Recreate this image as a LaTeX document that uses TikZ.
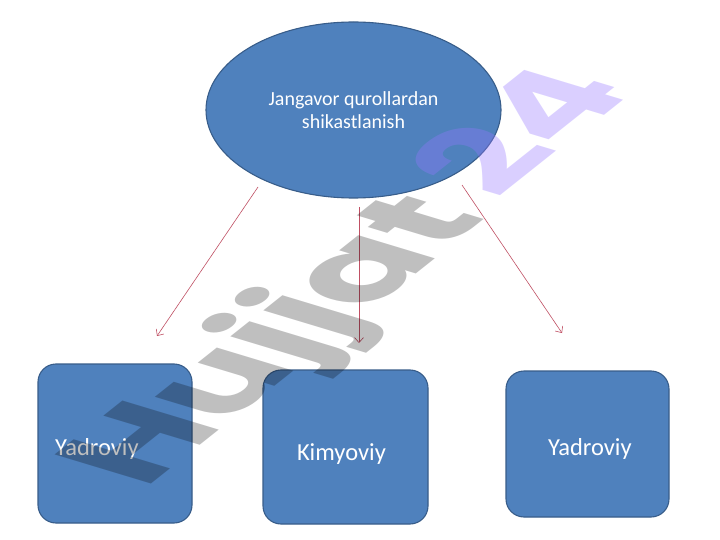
\documentclass[tikz,border=0pt]{standalone}
\usepackage{fontspec}
\setmainfont{Carlito}
\newfontfamily\wmfont{Poppins}
\usetikzlibrary{shapes.geometric,arrows.meta}
\definecolor{boxfill}{RGB}{79,129,189}
\definecolor{boxline}{RGB}{56,93,138}
\definecolor{arrowcol}{RGB}{192,80,100}
\definecolor{wmpurple}{RGB}{150,120,255}
\tikzset{
  box/.style={draw=boxline, line width=1.1pt, fill=boxfill, rounded corners=18pt,
    text=white, font=\fontsize{24.5}{28}\selectfont, inner ysep=0pt, text depth=5pt, align=left},
  topell/.style={ellipse, draw=boxline, line width=1.1pt, fill=boxfill, text=white,
    minimum width=295pt, minimum height=176pt, inner sep=0pt, align=center,
    font=\fontsize{20}{23}\selectfont},
  conn/.style={draw=arrowcol, line width=0.6pt, -{Straight Barb[length=5pt,width=9pt]}},
  wmgray/.style={transform shape, anchor=base west, inner sep=0pt, text=black, text opacity=0.25,
    font=\fontsize{143}{143}\wmfont\bfseries},
  wmviolet/.style={transform shape, anchor=base west, inner sep=0pt, text=wmpurple, text opacity=0.35,
    font=\fontsize{143}{143}\wmfont\bfseries}
}
\begin{document}
\begin{tikzpicture}[x=1pt,y=-1pt]
\fill[white] (0,0) rectangle (720,540);
\useasboundingbox (0,0) rectangle (720,540);

\node[topell] (top) at (353.5,110) {Jangavor qurollardan\\shikastlanish};

\node[box, minimum width=154pt, minimum height=159pt, text width=120pt, inner xsep=17pt, text height=28pt] (b1) at (115,443.5) {Yadroviy};
\node[box, minimum width=165pt, minimum height=154pt, text width=97pt, inner xsep=34pt, text height=31pt] (b2) at (345.5,447) {Kimyoviy};
\node[box, minimum width=163pt, minimum height=146pt, text width=79pt, inner xsep=42pt, text height=27pt] (b3) at (587.5,444) {Yadroviy};

\coordinate (s1) at (258,187);
\coordinate (e1) at (157,336);
\coordinate (s2) at (359,207);
\coordinate (e2) at (359,343);
\coordinate (s3) at (462,185);
\coordinate (e3) at (562,333);
\draw[conn] (s1) -- (e1);
\draw[conn] (s2) -- (e2);
\draw[conn] (s3) -- (e3);

\begin{scope}[shift={(144,490)}, cm={0.78,0.62,-0.96,0.29,(0,0)}]
\node[wmgray] (wmA) at (0,0) {Hujjat};
\node[wmviolet, xshift=23pt, yshift=8.6pt] (wmB) at (wmA.base east) {24};
\end{scope}
\end{tikzpicture}
\end{document}
